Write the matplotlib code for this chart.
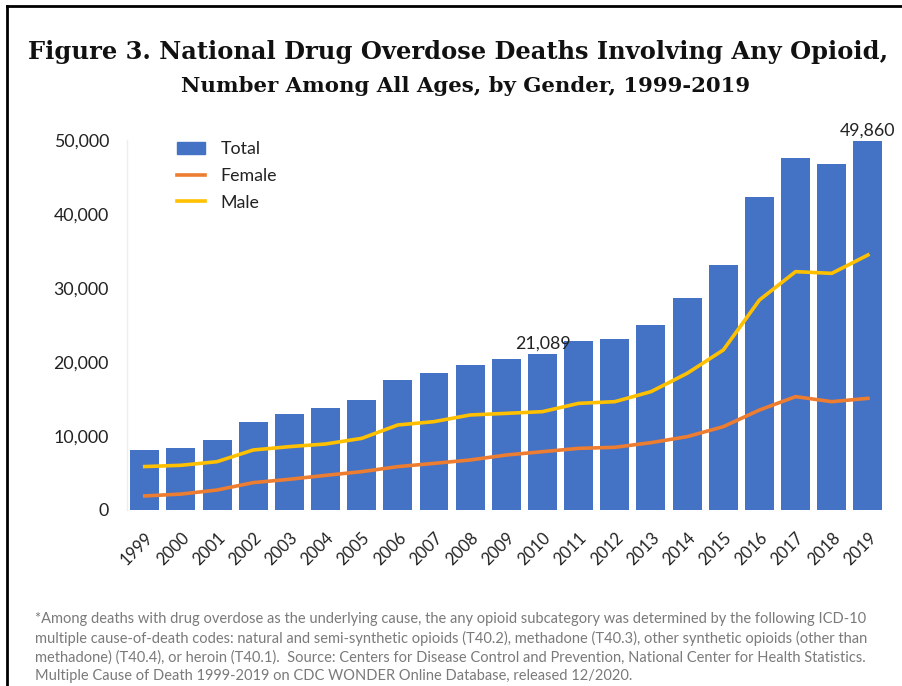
import matplotlib
matplotlib.use("Agg")
import matplotlib.pyplot as plt
from matplotlib.lines import Line2D

years = [str(y) for y in range(1999, 2020)]
total = [8050, 8407, 9496, 11920, 12940, 13756, 14918, 17545, 18516, 19582,
         20422, 21089, 22784, 23166, 25052, 28647, 33091, 42249, 47600, 46802, 49860]
female = [1900, 2150, 2700, 3700, 4150, 4680, 5180, 5860, 6300, 6760,
          7430, 7880, 8330, 8470, 9100, 9910, 11260, 13510, 15320, 14640, 15090]
male = [5870, 6040, 6530, 8110, 8560, 8920, 9680, 11490, 11940, 12840,
        13060, 13290, 14410, 14640, 15990, 18470, 21620, 28380, 32210, 31980, 34460]
yticks = [0, 10000, 20000, 30000, 40000, 50000]
annotated = {"2010": "21,089", "2019": "49,860"}

title1 = "Figure 3. National Drug Overdose Deaths Involving Any Opioid,"
title2 = "Number Among All Ages, by Gender, 1999-2019"
footnote = ("*Among deaths with drug overdose as the underlying cause, the any opioid subcategory was determined by the following ICD-10\n"
            "multiple cause-of-death codes: natural and semi-synthetic opioids (T40.2), methadone (T40.3), other synthetic opioids (other than\n"
            "methadone) (T40.4), or heroin (T40.1).  Source: Centers for Disease Control and Prevention, National Center for Health Statistics.\n"
            "Multiple Cause of Death 1999-2019 on CDC WONDER Online Database, released 12/2020.")

BLUE = "#4472C4"
ORANGE = "#ED7D31"
GOLD = "#FFC000"
FONT = "Lato"

W, H = 902, 686
fig = plt.figure(figsize=(W / 100, H / 100), dpi=100)
fig.patch.set_facecolor("white")

ax = fig.add_axes([127 / W, (H - 510) / H, 759 / W, 370 / H])
x = list(range(len(years)))
ax.bar(x, total, width=0.8, color=BLUE, zorder=2, label="Total")
ax.plot(x, female, color=ORANGE, lw=2.6, zorder=3, label="Female")
ax.plot(x, male, color=GOLD, lw=2.6, zorder=3, label="Male")

ax.set_xlim(-0.49, 20.5)
ax.set_ylim(0, 50000)
ax.set_yticks(yticks)
ax.set_yticklabels([f"{v:,}" for v in yticks], fontsize=12.8, family=FONT, color="#222222")
ax.set_xticks(x)
ax.set_xticklabels(years, rotation=45, ha="right", rotation_mode="anchor",
                   fontsize=12, family=FONT, color="#222222")
ax.tick_params(axis="both", length=0)
ax.tick_params(axis="y", pad=13)
ax.tick_params(axis="x", pad=14)
for s in ["top", "right", "bottom"]:
    ax.spines[s].set_visible(False)
ax.spines["left"].set_color("#eeeeee")
ax.spines["left"].set_linewidth(1)

for i, y in enumerate(years):
    if y in annotated:
        ax.annotate(annotated[y], (i, total[i]), xytext=(0, 2), textcoords="offset points",
                    ha="center", va="bottom", fontsize=12.8, family=FONT, color="#222222",
                    annotation_clip=False)

handles = [plt.Rectangle((0, 0), 1, 1, color=BLUE),
           Line2D([0], [0], color=ORANGE, lw=2.6),
           Line2D([0], [0], color=GOLD, lw=2.6)]
leg = ax.legend(handles, ["Total", "Female", "Male"], loc="upper left",
                bbox_to_anchor=(0.045, 1.04), frameon=False,
                prop={"family": FONT, "size": 12.8}, handlelength=1.55,
                handleheight=0.7, labelspacing=0.6, handletextpad=0.9)
for t in leg.get_texts():
    t.set_color("#222222")

fig.text(458 / W, 1 - 52 / H, title1, ha="center", va="center", fontsize=17.4,
         family="DejaVu Serif", fontweight="bold", color="#111111")
fig.text(466 / W, 1 - 86 / H, title2, ha="center", va="center", fontsize=15.3,
         family="DejaVu Serif", fontweight="bold", color="#111111")

fig.text(35 / W, 1 - 612 / H, footnote, ha="left", va="top", fontsize=10.5,
         family=FONT, color="#7a7a7a", linespacing=1.4)

fig.add_artist(Line2D([7 / W, 7 / W], [0, 1 - 6 / H], color="black", lw=2, transform=fig.transFigure))
fig.add_artist(Line2D([7 / W, 1], [1 - 6 / H, 1 - 6 / H], color="black", lw=2, transform=fig.transFigure))

fig.savefig("out.png", dpi=100)
